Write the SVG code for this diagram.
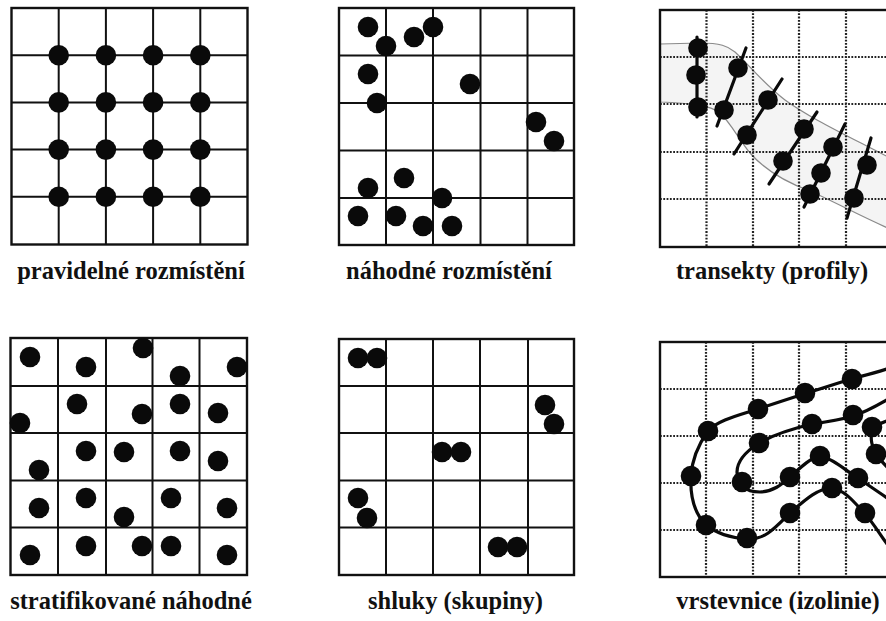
<svg xmlns="http://www.w3.org/2000/svg" width="886" height="621" viewBox="0 0 886 621">
<style>
.bg{fill:#ffffff}
.frame{fill:none;stroke:#111;stroke-width:2.4}
.grid{fill:none;stroke:#111;stroke-width:2}
.dot{fill:#0a0a0a}
.dotted{fill:none;stroke:#222;stroke-width:2.2;stroke-dasharray:1.8 1.5}
.band{fill:#f4f4f4;stroke:#8a8a8a;stroke-width:1.2}
.tr{fill:none;stroke:#0a0a0a;stroke-width:3.2;stroke-linecap:round}
.iso{fill:none;stroke:#0a0a0a;stroke-width:3.2;stroke-linejoin:round}
.lbl{font-family:"Liberation Serif","Times New Roman",serif;font-weight:bold;font-size:24.5px;fill:#111;text-anchor:middle}
</style>
<rect class="bg" x="0" y="0" width="886" height="621"/>

<g id="pravidelne">
  <rect class="frame" x="11.5" y="8" width="236" height="236.5"/>
  <path class="grid" d="M58.7,8V244.5M105.9,8V244.5M153.1,8V244.5M200.3,8V244.5M11.5,55.2H247.5M11.5,102.4H247.5M11.5,149.6H247.5M11.5,196.8H247.5"/>
  <g class="dot">
    <circle cx="58.7" cy="55.2" r="10.3"/><circle cx="105.9" cy="55.2" r="10.3"/><circle cx="153.1" cy="55.2" r="10.3"/><circle cx="200.3" cy="55.2" r="10.3"/>
    <circle cx="58.7" cy="102.4" r="10.3"/><circle cx="105.9" cy="102.4" r="10.3"/><circle cx="153.1" cy="102.4" r="10.3"/><circle cx="200.3" cy="102.4" r="10.3"/>
    <circle cx="58.7" cy="149.6" r="10.3"/><circle cx="105.9" cy="149.6" r="10.3"/><circle cx="153.1" cy="149.6" r="10.3"/><circle cx="200.3" cy="149.6" r="10.3"/>
    <circle cx="58.7" cy="196.8" r="10.3"/><circle cx="105.9" cy="196.8" r="10.3"/><circle cx="153.1" cy="196.8" r="10.3"/><circle cx="200.3" cy="196.8" r="10.3"/>
  </g>
  <text class="lbl" x="131" y="279">pravidelné rozmístění</text>
</g>

<g id="nahodne">
  <rect class="frame" x="339" y="8" width="235" height="237"/>
  <path class="grid" d="M386,8V245M433,8V245M480.5,8V245M527.5,8V245M339,55.5H574M339,103H574M339,150.5H574M339,198H574"/>
  <g class="dot">
    <circle cx="368" cy="27" r="10.3"/><circle cx="386" cy="46" r="10.3"/><circle cx="414" cy="37" r="10.3"/><circle cx="433" cy="27" r="10.3"/>
    <circle cx="368" cy="74" r="10.3"/><circle cx="377" cy="103" r="10.3"/><circle cx="470" cy="84" r="10.3"/>
    <circle cx="536" cy="122" r="10.3"/><circle cx="554" cy="141" r="10.3"/>
    <circle cx="404" cy="178" r="10.3"/><circle cx="368" cy="188" r="10.3"/><circle cx="442" cy="198" r="10.3"/>
    <circle cx="358" cy="216" r="10.3"/><circle cx="396" cy="216" r="10.3"/><circle cx="423" cy="226" r="10.3"/><circle cx="452" cy="226" r="10.3"/>
  </g>
  <text class="lbl" x="449" y="279">náhodné rozmístění</text>
</g>

<g id="transekty">
  <path class="band" d="M660,44 L700,43 C720,43 728,46 735,52 C750,66 765,85 785,100 C810,118 840,132 890,158 L890,229 C860,216 835,202 810,191 C785,182 765,170 750,153 C738,138 730,122 720,113 C710,105 690,103 660,102 Z"/>
  <path class="dotted" d="M706.5,10V247M753,10V247M799,10V247M846,10V247M660,57H886M660,104H886M660,152H886M660,199H886"/>
  <rect class="frame" x="660" y="10" width="232" height="237"/>
  <g class="tr">
    <path d="M697,37L697,117"/>
    <path d="M746,48L717,126"/>
    <path d="M782,79L734,154"/>
    <path d="M817,112L769,184"/>
    <path d="M845,124L804,207"/>
    <path d="M871,138L847,218"/>
  </g>
  <g class="dot">
    <circle cx="698" cy="48" r="9.8"/><circle cx="696" cy="75" r="9.8"/><circle cx="698" cy="107" r="9.8"/>
    <circle cx="738" cy="68" r="9.8"/><circle cx="724" cy="110" r="9.8"/>
    <circle cx="768" cy="100" r="9.8"/><circle cx="747" cy="135" r="9.8"/>
    <circle cx="804" cy="129" r="9.8"/><circle cx="783" cy="161" r="9.8"/>
    <circle cx="833" cy="147" r="9.8"/><circle cx="821" cy="173" r="9.8"/><circle cx="810" cy="194" r="9.8"/>
    <circle cx="867" cy="165" r="9.8"/><circle cx="854" cy="198" r="9.8"/>
  </g>
  <text class="lbl" x="772" y="279">transekty (profily)</text>
</g>

<g id="stratifikovane">
  <rect class="frame" x="10.5" y="338" width="236.5" height="237"/>
  <path class="grid" d="M58,338V575M106,338V575M152.5,338V575M199.5,338V575M10.5,386H247M10.5,433H247M10.5,480.5H247M10.5,527.5H247"/>
  <g class="dot">
    <circle cx="30" cy="357" r="10.3"/><circle cx="86" cy="367" r="10.3"/><circle cx="143" cy="348" r="10.3"/><circle cx="180" cy="376" r="10.3"/><circle cx="237" cy="367" r="10.3"/>
    <circle cx="77" cy="404" r="10.3"/><circle cx="20" cy="423" r="10.3"/><circle cx="142" cy="414" r="10.3"/><circle cx="180" cy="404" r="10.3"/><circle cx="218" cy="413" r="10.3"/>
    <circle cx="86" cy="451" r="10.3"/><circle cx="124" cy="452" r="10.3"/><circle cx="180" cy="451" r="10.3"/><circle cx="218" cy="461" r="10.3"/><circle cx="39" cy="470" r="10.3"/>
    <circle cx="86" cy="498" r="10.3"/><circle cx="171" cy="498" r="10.3"/><circle cx="39" cy="508" r="10.3"/><circle cx="124" cy="517" r="10.3"/><circle cx="227" cy="508" r="10.3"/>
    <circle cx="30" cy="555" r="10.3"/><circle cx="86" cy="546" r="10.3"/><circle cx="142" cy="546" r="10.3"/><circle cx="171" cy="546" r="10.3"/><circle cx="227" cy="555" r="10.3"/>
  </g>
  <text class="lbl" x="131" y="609">stratifikované náhodné</text>
</g>

<g id="shluky">
  <rect class="frame" x="339" y="339" width="235" height="236"/>
  <path class="grid" d="M386,339V575M433,339V575M480,339V575M528,339V575M339,386H574M339,433H574M339,480.5H574M339,527.5H574"/>
  <g class="dot">
    <circle cx="358" cy="358" r="10.3"/><circle cx="377" cy="358" r="10.3"/>
    <circle cx="545" cy="405" r="10.3"/><circle cx="554" cy="424" r="10.3"/>
    <circle cx="442" cy="452" r="10.3"/><circle cx="461" cy="452" r="10.3"/>
    <circle cx="358" cy="498" r="10.3"/><circle cx="367" cy="518" r="10.3"/>
    <circle cx="498" cy="547" r="10.3"/><circle cx="517" cy="547" r="10.3"/>
  </g>
  <text class="lbl" x="455.5" y="609">shluky (skupiny)</text>
</g>

<g id="vrstevnice">
  <path class="dotted" d="M706,342V577M753,342V577M799,342V577M846,342V577M660,389H886M660,436H886M660,483H886M660,530H886"/>
  <rect class="frame" x="660" y="342" width="232" height="235"/>
  <g class="iso">
    <path d="M890,368 C875,373 862,376 851,379 C835,384 820,389 804,394 C788,399 773,404 758,409 C740,415 718,420 708,431 C698,445 692,460 691,476 C690,495 693,512 706,525 C716,533 732,538 747,539 C765,540 775,528 790,513 C805,500 818,488 832,488 C845,490 855,503 865,514 C875,525 880,535 890,548"/>
    <path d="M890,398 C878,405 866,412 853,416 C840,420 826,422 812,424 C795,428 775,434 759,443 C745,452 737,462 737,472 C737,485 745,492 760,492 C775,491 782,484 790,477 C800,468 810,458 820,456 C832,458 845,470 858,478 C868,485 880,493 890,500"/>
    <path d="M890,420 C880,423 874,426 872,430 C870,438 872,448 876,454 C880,460 884,464 890,470"/>
  </g>
  <g class="dot">
    <circle cx="852" cy="379" r="10.3"/><circle cx="805" cy="393" r="10.3"/><circle cx="758" cy="409" r="10.3"/><circle cx="708" cy="431" r="10.3"/>
    <circle cx="691" cy="476" r="10.3"/><circle cx="706" cy="525" r="10.3"/><circle cx="747" cy="538" r="10.3"/><circle cx="790" cy="513" r="10.3"/>
    <circle cx="832" cy="488" r="10.3"/><circle cx="865" cy="513" r="10.3"/>
    <circle cx="853" cy="415" r="10.3"/><circle cx="812" cy="424" r="10.3"/><circle cx="759" cy="443" r="10.3"/><circle cx="742" cy="482" r="10.3"/>
    <circle cx="790" cy="477" r="10.3"/><circle cx="820" cy="456" r="10.3"/><circle cx="858" cy="478" r="10.3"/>
    <circle cx="872" cy="427" r="10.3"/><circle cx="876" cy="454" r="10.3"/>
  </g>
  <text class="lbl" x="778" y="609">vrstevnice (izolinie)</text>
</g>
</svg>
